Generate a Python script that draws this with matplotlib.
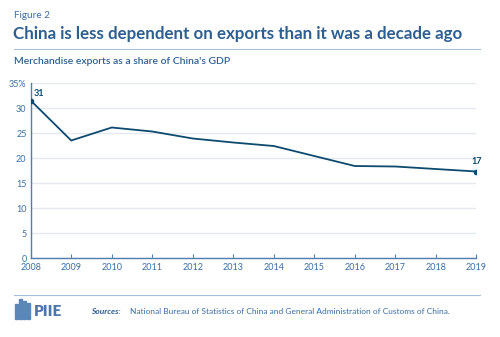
import numpy as np
import matplotlib
matplotlib.use("Agg")
import matplotlib.pyplot as plt
from matplotlib.patches import Rectangle

years = [2008, 2009, 2010, 2011, 2012, 2013, 2014, 2015, 2016, 2017, 2018, 2019]
share = [31.5, 23.5, 26.1, 25.3, 23.9, 23.1, 22.4, 20.4, 18.4, 18.3, 17.8, 17.3]
yticks = [0, 5, 10, 15, 20, 25, 30, 35]
ytick_labels = ["0", "5", "10", "15", "20", "25", "30", "35%"]

navy = "#0d4a6f"
blue_text = "#3a6ea5"
title_blue = "#2e5f91"
rule_blue = "#a9c0d8"
grid_col = "#e3e9ef"

plt.rcParams["font.family"] = ["Lato", "DejaVu Sans"]

fig = plt.figure(figsize = (5, 3.37), dpi = 100)
ax = fig.add_axes([0.0614, 0.2344, 0.8912, 0.5193])

ax.plot(years, share, color = navy, linewidth = 1.3, zorder = 3)
ax.plot([years[0], years[-1]], [share[0], share[-1]], "o", color = navy, markersize = 3, zorder = 4)
ax.text(years[0] + 0.08, share[0] + 0.6, "%d" % int(share[0]), color = navy, fontsize = 6.5,
        fontweight = "bold", ha = "left", va = "bottom")
ax.text(years[-1], share[-1] + 1.2, "%d" % int(share[-1]), color = navy, fontsize = 6.5,
        fontweight = "bold", ha = "center", va = "bottom")

ax.set_xlim(years[0], years[-1])
ax.set_ylim(0, 35)
ax.set_xticks(years)
ax.set_xticklabels([str(y) for y in years])
ax.set_yticks(yticks)
ax.set_yticklabels(ytick_labels)
ax.grid(True, axis = "y", color = grid_col, linewidth = 1.0)
ax.set_axisbelow(True)

for side in ["top", "right"]:
    ax.spines[side].set_visible(False)
for side in ["left", "bottom"]:
    ax.spines[side].set_color("#4f7fae")
    ax.spines[side].set_linewidth(1.0)

ax.tick_params(axis = "x", direction = "in", length = 3, width = 0.8, color = "#4f7fae",
               labelsize = 6.5, labelcolor = blue_text, pad = 3.5)
ax.tick_params(axis = "y", length = 0, labelsize = 6.5, labelcolor = blue_text, pad = 3)

fig.text(0.028, 0.955, "Figure 2", fontsize = 7.2, color = blue_text, va = "center")
fig.text(0.026, 0.898, "China is less dependent on exports than it was a decade ago",
         fontsize = 12.2, fontweight = "bold", color = title_blue, va = "center")
fig.add_artist(plt.Line2D([0.028, 0.96], [0.855, 0.855], color = rule_blue, linewidth = 0.8))
fig.text(0.028, 0.818, "Merchandise exports as a share of China's GDP", fontsize = 7.5,
         fontweight = "semibold", color = title_blue, va = "center")

fig.add_artist(plt.Line2D([0.028, 0.96], [0.125, 0.125], color = rule_blue, linewidth = 0.8))

# logo: small building glyph plus wordmark
for i, h in enumerate([0.045, 0.062, 0.055, 0.05]):
    fig.add_artist(Rectangle((0.030 + i * 0.008, 0.052), 0.006, h, color = "#5b86b8"))
fig.text(0.068, 0.075, "PIIE", fontsize = 11, fontweight = "heavy", color = "#4a76ab", va = "center")

fig.text(0.182, 0.075, "Sources:", fontsize = 6, fontweight = "bold", fontstyle = "italic",
         color = title_blue, va = "center")
fig.text(0.26, 0.075, "National Bureau of Statistics of China and General Administration of Customs of China.",
         fontsize = 6, color = blue_text, va = "center")

fig.savefig("out.png", dpi = 100)
